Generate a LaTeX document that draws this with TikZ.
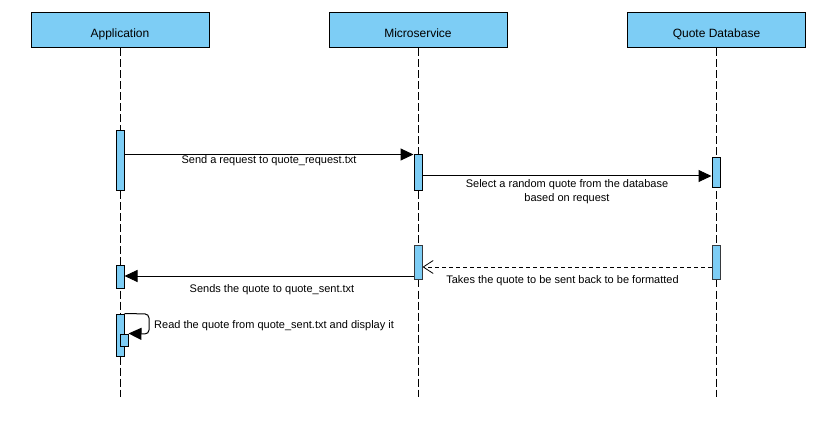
\documentclass[tikz,border=0pt]{standalone}
\usepackage{fontspec}
\setmainfont{Liberation Sans}
\usetikzlibrary{arrows.meta}
\definecolor{lblue}{HTML}{7DCDF5}
\definecolor{dgray}{HTML}{36393D}
\tikzset{
  head/.style={draw=black, fill=lblue, line width=1pt, minimum width=178pt, minimum height=35pt, inner sep=0pt, text height=15pt, text depth=0pt, font=\fontsize{12}{14}\selectfont},
  bar/.style={draw=black, fill=lblue, line width=1pt, minimum width=8pt, inner sep=0pt},
  life/.style={line width=1pt, dash pattern=on 8pt off 3pt},
  msg/.style={line width=1pt, -{Triangle[length=13pt,width=12pt]}},
  ret/.style={line width=0.8pt, dash pattern=on 4pt off 3pt, -{Straight Barb[length=10pt,width=13pt,line width=0.8pt]}},
  lbl/.style={font=\fontsize{11}{14}\selectfont, inner sep=0pt, align=center},
}
\begin{document}
\begin{tikzpicture}[x=1pt,y=-1pt]
\useasboundingbox (0,0) rectangle (831,425);
% headers
\node[head] (app) at (120,30.5) {Application};
\node[head] (mic) at (418,30.5) {Microservice};
\node[head] (db) at (716.5,30.5) {Quote Database};
% lifelines
\coordinate (appE) at (120,397);
\coordinate (micE) at (418,397);
\coordinate (dbE) at (716,397);
\draw[life] (app.south -| appE) -- (appE);
\draw[life] (mic.south -| micE) -- (micE);
\draw[life] (db.south -| dbE) -- (dbE);
% activation bars
\node[bar, minimum height=60pt] (a1) at (120,161) {};
\node[bar, minimum height=36pt] (m1) at (418,173) {};
\node[bar, minimum height=30pt] (d1) at (716,173) {};
\node[bar, draw=dgray, minimum height=33pt] (m2) at (418,262.5) {};
\node[bar, draw=dgray, minimum height=33pt] (d2) at (716,262.5) {};
\node[bar, minimum height=22pt] (a2) at (120,277) {};
\node[bar, minimum height=42pt] (a3) at (120,335) {};
\node[bar, minimum height=12pt] (a3s) at (124,340) {};
% messages
\draw[msg] (a1.east |- m1.north) -- (m1.north west);
\node[lbl] (l1) at (269,161) {Send a request to quote\_request.txt};
\draw[msg] (m1.east |- 0,176) -- (d1.west |- 0,176);
\node[lbl] (l2) at (567,192) {Select a random quote from the database\\based on request};
\draw[ret] (d2.west |- 0,267) -- (m2.east |- 0,267);
\node[lbl] (l3) at (562.5,280.5) {Takes the quote to be sent back to be formatted};
\draw[msg] (m2.west |- 0,276) -- (a2.east |- 0,276);
\node[lbl] (l4) at (272,289.5) {Sends the quote to quote\_sent.txt};
\draw[msg, rounded corners=4pt] (a3.north east) -- (149,314) -- (149,334) -- (a3s.north east);
\node[lbl, anchor=west] (l5) at (154,326) {Read the quote from quote\_sent.txt and display it};
\end{tikzpicture}
\end{document}
